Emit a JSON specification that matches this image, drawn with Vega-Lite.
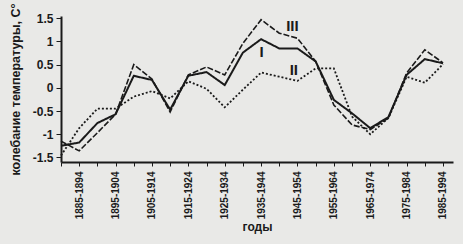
{
  "$schema": "https://vega.github.io/schema/vega-lite/v6.json",
  "autosize": {"type": "none"},
  "padding": {"left": 61, "top": 16, "right": 10, "bottom": 82},
  "width": 392,
  "height": 146,
  "background": "#e9e9e7",
  "config": {
    "view": {"stroke": null},
    "font": "Liberation Sans",
    "axis": {"domainColor": "#1a1a1a", "tickColor": "#1a1a1a", "labelColor": "#1a1a1a", "titleColor": "#1a1a1a", "grid": false, "labelFontWeight": "bold", "titleFontWeight": "bold"}
  },
  "datasets": {
    "series": [
      {"s": "I", "x": 1880, "v": -1.25}, {"s": "I", "x": 1885, "v": -1.18}, {"s": "I", "x": 1890, "v": -0.76}, {"s": "I", "x": 1895, "v": -0.57},
      {"s": "I", "x": 1900, "v": 0.26}, {"s": "I", "x": 1905, "v": 0.17}, {"s": "I", "x": 1910, "v": -0.47}, {"s": "I", "x": 1915, "v": 0.26},
      {"s": "I", "x": 1920, "v": 0.34}, {"s": "I", "x": 1925, "v": 0.06}, {"s": "I", "x": 1930, "v": 0.76}, {"s": "I", "x": 1935, "v": 1.05},
      {"s": "I", "x": 1940, "v": 0.85}, {"s": "I", "x": 1945, "v": 0.85}, {"s": "I", "x": 1950, "v": 0.57}, {"s": "I", "x": 1955, "v": -0.26},
      {"s": "I", "x": 1960, "v": -0.55}, {"s": "I", "x": 1965, "v": -0.87}, {"s": "I", "x": 1970, "v": -0.63}, {"s": "I", "x": 1975, "v": 0.28},
      {"s": "I", "x": 1980, "v": 0.62}, {"s": "I", "x": 1985, "v": 0.53},
      {"s": "II", "x": 1880, "v": -1.46}, {"s": "II", "x": 1885, "v": -0.87}, {"s": "II", "x": 1890, "v": -0.45}, {"s": "II", "x": 1895, "v": -0.45},
      {"s": "II", "x": 1900, "v": -0.19}, {"s": "II", "x": 1905, "v": -0.07}, {"s": "II", "x": 1910, "v": -0.23}, {"s": "II", "x": 1915, "v": 0.14},
      {"s": "II", "x": 1920, "v": -0.02}, {"s": "II", "x": 1925, "v": -0.42}, {"s": "II", "x": 1930, "v": -0.04}, {"s": "II", "x": 1935, "v": 0.33},
      {"s": "II", "x": 1940, "v": 0.24}, {"s": "II", "x": 1945, "v": 0.15}, {"s": "II", "x": 1950, "v": 0.42}, {"s": "II", "x": 1955, "v": 0.42},
      {"s": "II", "x": 1960, "v": -0.62}, {"s": "II", "x": 1965, "v": -1.0}, {"s": "II", "x": 1970, "v": -0.65}, {"s": "II", "x": 1975, "v": 0.24},
      {"s": "II", "x": 1980, "v": 0.11}, {"s": "II", "x": 1985, "v": 0.51},
      {"s": "III", "x": 1880, "v": -1.15}, {"s": "III", "x": 1885, "v": -1.36}, {"s": "III", "x": 1890, "v": -0.97}, {"s": "III", "x": 1895, "v": -0.57},
      {"s": "III", "x": 1900, "v": 0.5}, {"s": "III", "x": 1905, "v": 0.19}, {"s": "III", "x": 1910, "v": -0.52}, {"s": "III", "x": 1915, "v": 0.28},
      {"s": "III", "x": 1920, "v": 0.45}, {"s": "III", "x": 1925, "v": 0.28}, {"s": "III", "x": 1930, "v": 0.96}, {"s": "III", "x": 1935, "v": 1.47},
      {"s": "III", "x": 1940, "v": 1.18}, {"s": "III", "x": 1945, "v": 1.07}, {"s": "III", "x": 1950, "v": 0.57}, {"s": "III", "x": 1955, "v": -0.37},
      {"s": "III", "x": 1960, "v": -0.8}, {"s": "III", "x": 1965, "v": -0.9}, {"s": "III", "x": 1970, "v": -0.65}, {"s": "III", "x": 1975, "v": 0.32},
      {"s": "III", "x": 1980, "v": 0.82}, {"s": "III", "x": 1985, "v": 0.54}
    ],
    "labels": [
      {"s": "I", "x": 1935.1, "v": 0.78},
      {"s": "II", "x": 1944, "v": 0.39},
      {"s": "III", "x": 1943.6, "v": 1.34}
    ]
  },
  "encoding": {
    "x": {
      "field": "x", "type": "quantitative",
      "scale": {"domain": [1880, 1987.75], "nice": false, "zero": false},
      "axis": {
        "values": [1880, 1885, 1890, 1895, 1900, 1905, 1910, 1915, 1920, 1925, 1930, 1935, 1940, 1945, 1950, 1955, 1960, 1965, 1970, 1975, 1980, 1985],
        "labelExpr": "datum.value % 10 == 5 ? datum.value + '-' + (datum.value + 9) : ''",
        "labelAngle": -90, "labelFontSize": 10, "labelPadding": 5, "tickSize": 4, "domainWidth": 2,
        "title": "годы", "titleFontSize": 12, "titlePadding": 3, "labelFlush": false, "labelOverlap": false
      }
    },
    "y": {
      "field": "v", "type": "quantitative",
      "scale": {"domain": [-1.6, 1.55], "nice": false, "zero": false},
      "axis": {
        "values": [-1.5, -1, -0.5, 0, 0.5, 1, 1.5],
        "labelExpr": "datum.value + ''",
        "labelFontSize": 12, "tickSize": 5, "domainWidth": 2, "labelPadding": 3, "labelFlush": false,
        "title": "колебание температуры, С°", "titleFontSize": 12.5, "titlePadding": 10
      }
    }
  },
  "layer": [
    {
      "data": {"name": "series"},
      "mark": {"type": "line", "color": "#1a1a1a"},
      "encoding": {
        "detail": {"field": "s"},
        "strokeWidth": {"field": "s", "type": "nominal", "scale": {"domain": ["I", "II", "III"], "range": [2, 1.6, 1]}, "legend": null},
        "strokeDash": {"field": "s", "type": "nominal", "scale": {"domain": ["I", "II", "III"], "range": [[1, 0], [2, 2], [6, 2]]}, "legend": null}
      }
    },
    {
      "data": {"name": "labels"},
      "mark": {"type": "text", "fontSize": 15, "fontWeight": "bold", "color": "#1a1a1a", "font": "Liberation Sans"},
      "encoding": {
        "text": {"field": "s"}
      }
    }
  ]
}
